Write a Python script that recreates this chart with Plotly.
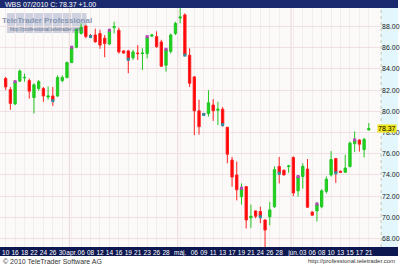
import plotly.graph_objects as go

# ---- data ----
opens = [83.10, 82.05, 80.70, 82.85, 83.15, 82.90, 81.30, 82.15, 82.15, 81.35,
         81.45, 81.45, 82.90, 83.20, 84.60, 86.05, 87.35, 88.05, 87.15, 87.20,
         87.35, 86.90, 86.35, 87.90, 87.65, 85.70, 85.70, 85.05, 85.50, 85.45,
         85.45, 87.10, 87.05, 86.55, 84.35, 85.65, 87.35, 88.80, 89.10, 85.30,
         83.25, 80.05, 79.80, 79.80, 80.60, 80.10, 80.20, 78.50, 75.40, 74.00,
         71.95, 72.90, 69.95, 70.60, 70.55, 69.75, 70.05, 71.00, 74.80, 74.45,
         74.80, 75.65, 72.50, 73.85, 74.55, 70.50, 70.60, 71.00, 72.45, 74.00,
         75.55, 74.35, 74.25, 74.80, 76.95, 77.30, 76.40, 78.25]
highs = [83.25, 82.30, 82.95, 83.95, 83.55, 83.10, 82.65, 82.95, 82.30, 82.35,
         82.30, 83.40, 83.40, 84.70, 86.10, 87.80, 88.30, 88.15, 87.30, 87.80,
         87.70, 87.20, 87.80, 88.45, 87.90, 85.75, 85.80, 85.80, 86.25, 85.95,
         87.10, 87.30, 87.55, 86.75, 85.95, 87.35, 88.45, 89.85, 89.25, 85.95,
         83.30, 81.10, 79.85, 82.00, 81.15, 80.90, 80.40, 78.50, 75.70, 75.25,
         73.20, 72.95, 71.20, 70.65, 71.00, 69.80, 71.45, 74.80, 75.70, 74.50,
         74.95, 75.75, 74.00, 75.10, 75.50, 70.55, 71.45, 72.65, 73.85, 76.25,
         75.60, 74.40, 75.90, 77.15, 78.10, 77.35, 77.50, 78.90]
lows = [82.00, 80.15, 80.60, 82.80, 82.80, 81.20, 79.80, 81.95, 80.90, 81.10,
        80.50, 81.35, 82.75, 83.10, 84.55, 85.95, 87.25, 86.90, 86.95, 86.50,
        85.90, 85.10, 86.25, 87.35, 85.45, 85.45, 83.60, 84.85, 84.85, 83.90,
        85.00, 87.00, 86.00, 84.20, 83.75, 85.45, 87.20, 88.30, 85.25, 82.30,
        77.75, 77.80, 79.65, 79.50, 79.10, 78.70, 78.55, 75.10, 72.90, 71.60,
        71.20, 68.95, 69.00, 69.90, 69.45, 67.10, 69.25, 70.90, 73.20, 73.95,
        74.20, 72.00, 71.95, 72.70, 70.90, 70.15, 69.60, 70.85, 72.25, 73.85,
        73.25, 74.20, 74.20, 74.70, 76.15, 76.20, 75.65, 78.20]
closes = [82.30, 80.75, 82.80, 83.80, 83.20, 81.90, 82.50, 82.80, 81.45, 81.45,
          81.00, 83.20, 83.20, 84.60, 86.05, 87.75, 87.95, 87.05, 87.05, 86.55,
          86.25, 86.40, 87.65, 88.00, 85.60, 85.50, 84.90, 85.60, 85.45, 85.50,
          87.05, 87.20, 86.10, 84.25, 85.85, 87.20, 88.30, 88.90, 85.30, 82.65,
          80.05, 78.55, 79.70, 80.80, 80.05, 80.20, 78.75, 75.95, 73.80, 72.60,
          72.75, 69.75, 70.10, 70.10, 70.05, 68.80, 70.70, 74.50, 74.15, 74.00,
          74.85, 72.30, 73.85, 74.80, 70.95, 70.20, 71.25, 72.50, 73.60, 75.45,
          74.20, 74.25, 74.65, 77.00, 77.30, 76.90, 77.35, 78.37]
magenta_idx = [2, 14, 22, 30, 34, 50, 62, 66, 74]
cyan_idx = [10, 18, 26, 38, 42, 46, 54, 58, 70]
tick_idx = [0, 2, 4, 6, 8, 10, 12, 14, 16, 18, 20, 22, 24, 26, 28, 30, 32, 34, 37,
            40, 42, 44, 46, 48, 50, 52, 54, 56, 58, 61, 63, 65, 67, 69, 71, 73, 75, 77]
tick_text = ["10", "16", "18", "22", "24", "26", "30", "apr.", "06", "08", "12", "14",
             "16", "19", "21", "23", "26", "28", "máj.", "06", "09", "11", "13", "17",
             "19", "21", "24", "26", "28", "jún.", "03", "06", "08", "10", "13", "15",
             "17", "21"]
y_ticks = [68, 70, 72, 74, 76, 78, 80, 82, 84, 86, 88]
last_price = 78.37
title_text = "WBS 07/2010 C: 78.37 +1.00"

W, H = 400, 266
px = lambda v: v / W
py = lambda v: 1 - v / H   # v measured from top

xs = list(range(len(opens)))

fig = go.Figure()
fig.add_trace(go.Candlestick(
    x=xs, open=opens, high=highs, low=lows, close=closes,
    increasing=dict(line=dict(color="#22c622", width=1), fillcolor="#1ed21e"),
    decreasing=dict(line=dict(color="#ff2020", width=1), fillcolor="#ff0000"),
    whiskerwidth=0, showlegend=False, hoverinfo="skip"))
fig.add_trace(go.Scatter(
    x=magenta_idx, y=[closes[i] for i in magenta_idx], mode="markers",
    marker=dict(symbol="square", size=3, color="#b448b8"), showlegend=False))
fig.add_trace(go.Scatter(
    x=cyan_idx, y=[closes[i] for i in cyan_idx], mode="markers",
    marker=dict(symbol="square", size=3, color="#2f8f9c"), showlegend=False))

x_right = 383
shapes = [
    # top title bar
    dict(type="rect", xref="paper", yref="paper", x0=0, x1=1, y0=py(8), y1=1,
         fillcolor="#1b2a6e", line_width=0, layer="below"),
    # right axis column
    dict(type="rect", xref="paper", yref="paper", x0=px(x_right), x1=1, y0=py(247), y1=py(8),
         fillcolor="#e2f6fb", line_width=0, layer="below"),
    dict(type="line", xref="paper", yref="paper", x0=px(x_right), x1=px(x_right), y0=py(247), y1=py(8),
         line=dict(color="#c8c8b0", width=1, dash="dot"), layer="below"),
    # bottom axis band
    dict(type="rect", xref="paper", yref="paper", x0=0, x1=1, y0=py(256), y1=py(247),
         fillcolor="#0d1850", line_width=0, layer="below"),
    # watermark box
    dict(type="rect", xref="paper", yref="paper", x0=px(7), x1=px(87), y0=py(33), y1=py(13),
         fillcolor="rgba(190,196,212,0.75)", line_width=0, layer="below"),
]
# month separators
for mi in [14, 37, 61]:
    shapes.append(dict(type="line", xref="x", yref="paper", x0=mi - 0.5, x1=mi - 0.5,
                       y0=py(247), y1=py(8), line=dict(color="#ead6da", width=1), layer="below"))

annotations = [
    dict(text=title_text, xref="paper", yref="paper", x=px(3), y=py(4.5), xanchor="left",
         yanchor="middle", showarrow=False, font=dict(size=7, color="#ffffff", family="Liberation Sans")),
    dict(text="<b>TeleTrader Professional</b>", xref="paper", yref="paper", x=px(47), y=py(20),
         xanchor="center", yanchor="middle", showarrow=False,
         font=dict(size=8, color="#8996b6", family="Liberation Sans")),
    dict(text="http://professional.teletrader.com", xref="paper", yref="paper", x=px(47), y=py(29),
         xanchor="center", yanchor="middle", showarrow=False,
         font=dict(size=5, color="#66708c", family="Liberation Sans")),
    dict(text="78.37", xref="paper", yref="y", x=px(399), y=last_price, xanchor="right",
         yanchor="middle", showarrow=False, bgcolor="#f0e41c", borderpad=0,
         font=dict(size=7, color="#000000", family="Liberation Sans")),
    dict(text="© 2010 TeleTrader Software AG", xref="paper", yref="paper", x=px(1), y=py(261),
         xanchor="left", yanchor="middle", showarrow=False,
         font=dict(size=7, color="#333333", family="Liberation Sans")),
    dict(text="http://professional.teletrader.com", xref="paper", yref="paper", x=px(399), y=py(261),
         xanchor="right", yanchor="middle", showarrow=False,
         font=dict(size=6, color="#333333", family="Liberation Sans")),
]

fig.update_layout(
    width=W, height=H, margin=dict(l=0, r=0, t=0, b=0),
    paper_bgcolor="#ffffff", plot_bgcolor="#fcf9f9",
    shapes=shapes, annotations=annotations, showlegend=False,
    xaxis=dict(domain=[0, px(x_right)], range=[-1.2, 79.6], rangeslider=dict(visible=False),
               tickmode="array", tickvals=tick_idx, ticktext=tick_text, ticks="", ticklen=0,
               tickfont=dict(size=6.5, color="#ffffff", family="Liberation Sans"),
               showgrid=True, gridcolor="#f4ecee", gridwidth=1, zeroline=False,
               showline=False, tickangle=0),
    yaxis=dict(domain=[py(247), py(8)], range=[67.2, 89.75], side="right",
               tickmode="array", tickvals=y_ticks, tickformat=".2f", ticks="",
               tickfont=dict(size=7, color="#222222", family="Liberation Sans"),
               showgrid=True, gridcolor="#eee0e3", gridwidth=1, zeroline=False, showline=False),
)

fig.write_html("out.html")
